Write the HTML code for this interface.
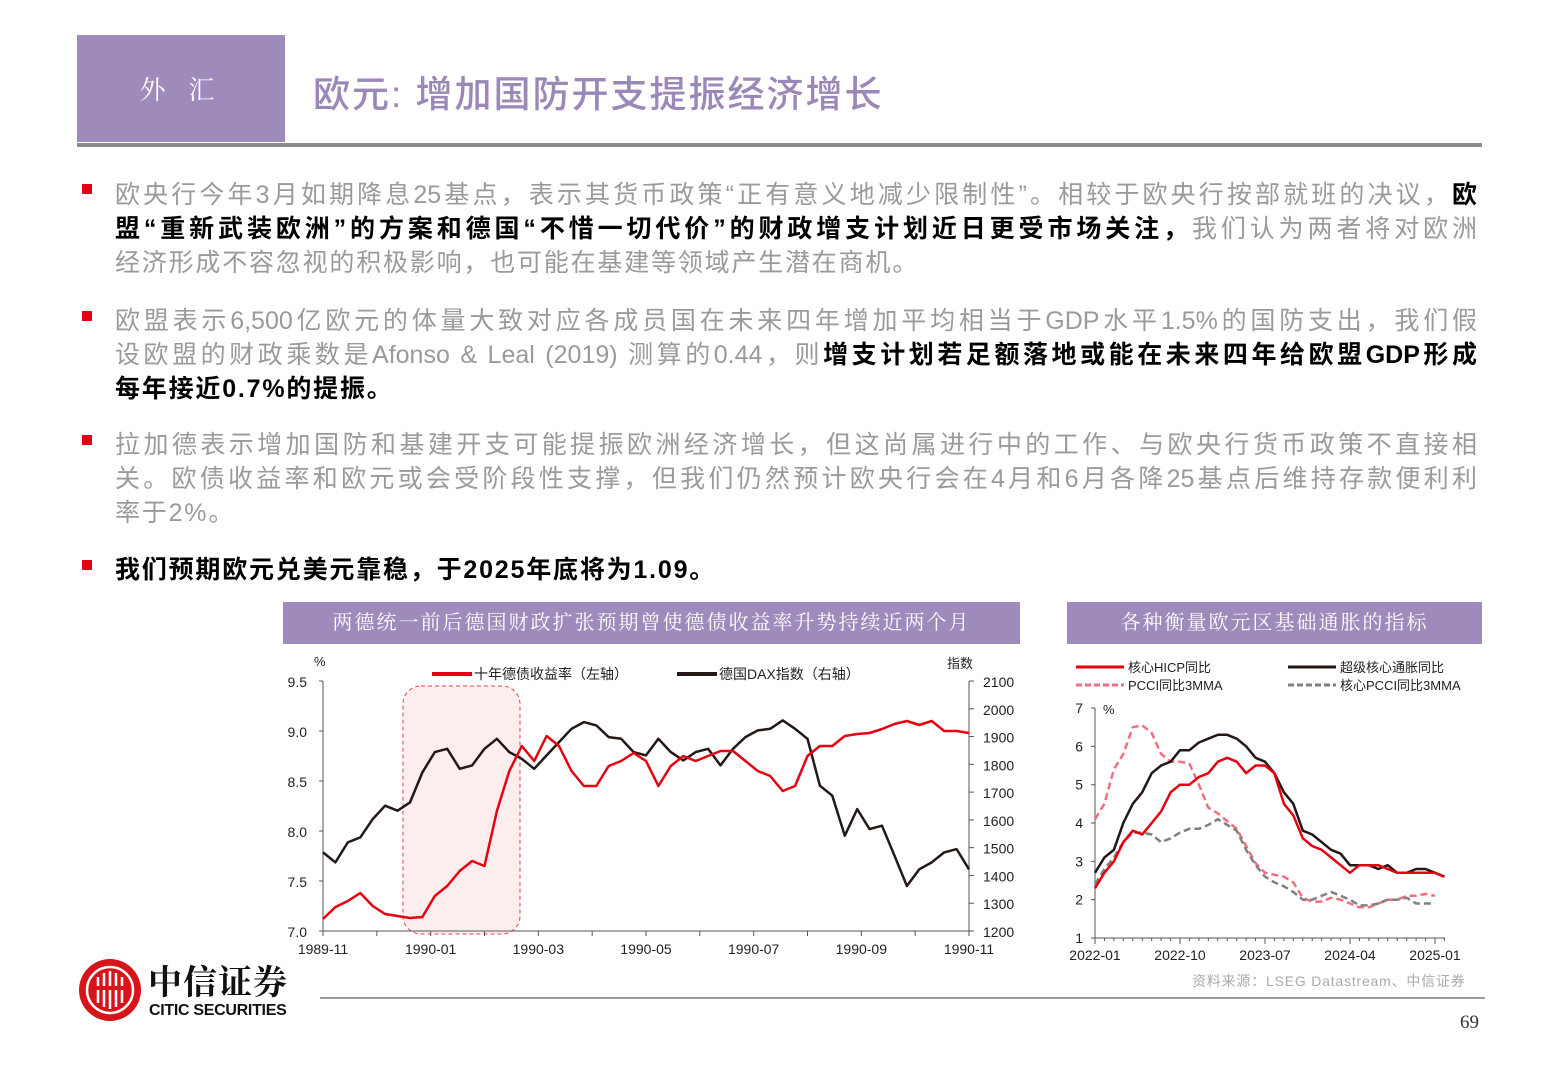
<!DOCTYPE html>
<html><head><meta charset="utf-8">
<style>
body{margin:0;width:1560px;height:1080px;background:#fff;position:relative;overflow:hidden;font-family:"Liberation Sans","Noto Sans CJK SC",sans-serif;}
.abs{position:absolute;}
.ln{position:absolute;left:115px;width:1362px;font-size:25px;line-height:34px;height:34px;color:#9a9a9a;white-space:nowrap;text-align:justify;text-align-last:justify;}
.ln.last{text-align-last:left;}
.ln b{color:#000;font-weight:bold;}
.sq{position:absolute;left:82px;width:10px;height:10px;background:#e60012;}
.ct{position:absolute;top:602px;height:42px;background:#9e8bbb;color:#fff;font-size:20px;line-height:42px;text-align:center;letter-spacing:2px;font-family:"Liberation Serif","Noto Serif CJK SC",serif;}
svg text{font-family:"Liberation Sans","Noto Sans CJK SC",sans-serif;}
</style></head><body>
<div class="abs" style="left:77px;top:35px;width:208px;height:107px;background:#9e8bbb;color:#fff;font-size:26px;line-height:107px;text-align:center;letter-spacing:8px;font-family:'Noto Serif CJK SC',serif;">外 汇</div>
<div class="abs" style="left:313px;top:64px;font-size:37px;color:#9b87b8;letter-spacing:2px;font-weight:500;font-family:'Liberation Sans','Noto Sans CJK SC',sans-serif;">欧元: 增加国防开支提振经济增长</div>
<div class="abs" style="left:77px;top:143px;width:1405px;height:4px;background:#8c8c8c;"></div>

<div class="sq" style="top:184px"></div>
<div>
<div class="ln" style="top:178px">欧央行今年3月如期降息25基点，表示其货币政策“正有意义地减少限制性”。相较于欧央行按部就班的决议，<b>欧</b></div>
<div class="ln" style="top:212px"><b>盟“重新武装欧洲”的方案和德国“不惜一切代价”的财政增支计划近日更受市场关注，</b>我们认为两者将对欧洲</div>
<div class="ln last" style="top:246px;letter-spacing:1.8px">经济形成不容忽视的积极影响，也可能在基建等领域产生潜在商机。</div>
</div>
<div class="sq" style="top:311px"></div>
<div>
<div class="ln" style="top:304px">欧盟表示6,500亿欧元的体量大致对应各成员国在未来四年增加平均相当于GDP水平1.5%的国防支出，我们假</div>
<div class="ln" style="top:338px">设欧盟的财政乘数是Afonso &amp; Leal (2019) 测算的0.44，则<b>增支计划若足额落地或能在未来四年给欧盟GDP形成</b></div>
<div class="ln last" style="top:372px;letter-spacing:1.8px"><b>每年接近0.7%的提振。</b></div>
</div>
<div class="sq" style="top:435px"></div>
<div>
<div class="ln" style="top:428px">拉加德表示增加国防和基建开支可能提振欧洲经济增长，但这尚属进行中的工作、与欧央行货币政策不直接相</div>
<div class="ln" style="top:462px">关。欧债收益率和欧元或会受阶段性支撑，但我们仍然预计欧央行会在4月和6月各降25基点后维持存款便利利</div>
<div class="ln last" style="top:496px;letter-spacing:1.8px">率于2%。</div>
</div>
<div class="sq" style="top:560px"></div>
<div class="ln last" style="top:553px;letter-spacing:1.8px"><b>我们预期欧元兑美元靠稳，于2025年底将为1.09。</b></div>

<div class="ct" style="left:283px;width:737px">两德统一前后德国财政扩张预期曾使德债收益率升势持续近两个月</div>
<div class="ct" style="left:1067px;width:415px">各种衡量欧元区基础通胀的指标</div>

<svg class="abs" style="left:0;top:0" width="1560" height="1080" id="svg"></svg>

<div class="abs" style="left:1192px;top:971px;font-size:14px;color:#aaa;letter-spacing:0.8px;">资料来源：LSEG Datastream、中信证券</div>
<div class="abs" style="left:320px;top:997px;width:1165px;height:2px;background:#999;"></div>
<div class="abs" style="left:1460px;top:1012px;font-size:19px;color:#333;font-family:'Liberation Serif',serif;">69</div>
<svg class="abs" style="left:79px;top:959px" width="62" height="62">
<circle cx="31" cy="31" r="31" fill="#d7141a"/>
<circle cx="31" cy="31" r="23" fill="none" stroke="#fff" stroke-width="2.5"/>
<path d="M19 18 v26 M25 14 v34 M31 12 v38 M37 14 v34 M43 18 v26" stroke="#fff" stroke-width="2.5" fill="none"/>
<path d="M16 29 h30" stroke="#d7141a" stroke-width="4"/>
</svg>
<div class="abs" style="left:148px;top:960px;font-size:34px;font-weight:bold;color:#111;font-family:'Noto Serif CJK SC',serif;line-height:40px;letter-spacing:1px;">中信证券</div>
<div class="abs" style="left:149px;top:1002px;font-size:16px;font-weight:bold;color:#111;letter-spacing:-0.3px;">CITIC SECURITIES</div>

<script>
const leftTicksX = ['1989-11','1990-01','1990-03','1990-05','1990-07','1990-09','1990-11'];
const leftTicksY = [7.0,7.5,8.0,8.5,9.0,9.5];
const rightTicksY = [1200,1300,1400,1500,1600,1700,1800,1900,2000,2100];
const bundYield = [7.12,7.24,7.30,7.38,7.25,7.17,7.15,7.13,7.14,7.35,7.45,7.6,7.7,7.65,8.2,8.6,8.85,8.7,8.95,8.85,8.6,8.45,8.45,8.65,8.7,8.78,8.7,8.45,8.65,8.75,8.7,8.75,8.8,8.8,8.7,8.6,8.55,8.4,8.45,8.75,8.85,8.85,8.95,8.97,8.98,9.02,9.07,9.1,9.06,9.1,9.0,9.0,8.98];
const dax = [1483,1447,1519,1537,1603,1651,1633,1663,1771,1844,1856,1784,1796,1856,1892,1844,1820,1784,1832,1880,1928,1952,1940,1898,1892,1844,1832,1892,1844,1814,1844,1856,1796,1856,1898,1922,1928,1958,1928,1892,1723,1687,1543,1639,1567,1579,1471,1362,1422,1447,1483,1495,1422];
const rTicksX = ['2022-01','2022-10','2023-07','2024-04','2025-01'];
const rTicksY = [1,2,3,4,5,6,7];
const coreHICP = [2.3,2.7,3.0,3.5,3.8,3.7,4.0,4.3,4.8,5.0,5.0,5.2,5.3,5.6,5.7,5.6,5.3,5.5,5.5,5.3,4.5,4.2,3.6,3.4,3.3,3.1,2.9,2.7,2.9,2.9,2.9,2.8,2.7,2.7,2.7,2.7,2.7,2.6];
const supercore = [2.7,3.1,3.3,4.0,4.5,4.8,5.3,5.5,5.6,5.9,5.9,6.1,6.2,6.3,6.3,6.2,6.0,5.7,5.6,5.3,4.8,4.5,3.8,3.7,3.5,3.3,3.2,2.9,2.9,2.9,2.8,2.9,2.7,2.7,2.8,2.8,2.7,2.6];
const pcci = [4.1,4.5,5.4,5.8,6.5,6.55,6.35,5.8,5.6,5.6,5.55,5.0,4.4,4.25,4.05,3.85,3.4,2.95,2.7,2.65,2.6,2.45,2.05,1.95,1.95,2.05,2.0,1.9,1.8,1.8,1.9,2.0,2.0,2.1,2.1,2.15,2.1];
const corePcci = [2.4,2.8,3.1,3.5,3.75,3.75,3.7,3.5,3.6,3.75,3.85,3.85,3.95,4.1,3.95,3.8,3.3,2.9,2.6,2.45,2.35,2.2,2.0,2.0,2.1,2.2,2.1,2.0,1.85,1.85,1.9,2.0,2.0,2.05,1.9,1.9,1.9];

const svg=document.getElementById('svg');const NS='http://www.w3.org/2000/svg';
function mk(t,a,txt){const e=document.createElementNS(NS,t);for(const k in a)e.setAttribute(k,a[k]);if(txt!==undefined)e.textContent=txt;svg.appendChild(e);return e;}

const LX0=323,LX1=969,LY0=931,LY1=681;
const lx=i=>LX0+(LX1-LX0)*i/(bundYield.length-1);
const ly=v=>LY0-(v-7.0)/2.5*(LY0-LY1);
const ry=v=>LY0-(v-1200)/900*(LY0-LY1);
let e;
e=mk('rect',{x:403,y:686,width:117,height:248,rx:18,fill:'#fdeeee',stroke:'#e8424a','stroke-dasharray':'4,3','stroke-width':1});

mk('line',{x1:LX0,y1:LY1,x2:LX0,y2:LY0,stroke:'#555'});
mk('line',{x1:LX1,y1:LY1,x2:LX1,y2:LY0,stroke:'#555'});
mk('line',{x1:LX0,y1:LY0,x2:LX1,y2:LY0,stroke:'#555'});
leftTicksY.forEach(v=>{mk('line',{x1:LX0-4,y1:ly(v),x2:LX0,y2:ly(v),stroke:'#555'});
 e=mk('text',{x:LX0-16,y:ly(v)+6,'text-anchor':'end','font-size':14,fill:'#222'},v.toFixed(1));});
rightTicksY.forEach(v=>{mk('line',{x1:LX1,y1:ry(v),x2:LX1+5,y2:ry(v),stroke:'#555'});
 e=mk('text',{x:LX1+14,y:ry(v)+6,'font-size':14,fill:'#222'},v);});
for(let m=0;m<=12;m++){const x=LX0+(LX1-LX0)*m/12;mk('line',{x1:x,y1:LY0,x2:x,y2:LY0+5,stroke:'#555'});}
leftTicksX.forEach((t,i)=>{const x=LX0+(LX1-LX0)*i/6;e=mk('text',{x:x,y:954,'text-anchor':'middle','font-size':14,fill:'#222'},t);});
mk('text',{x:314,y:666,'font-size':13,fill:'#222'},'%');
mk('text',{x:947,y:668,'font-size':13,fill:'#222'},'指数');
function path(arr,fx,fy,attrs,name){const d=arr.map((v,i)=>(i?'L':'M')+fx(i).toFixed(1)+','+fy(v).toFixed(1)).join('');const p=mk('path',Object.assign({d:d,fill:'none','stroke-linejoin':'round'},attrs));return p;}
path(dax,lx,ry,{stroke:'#231815','stroke-width':2.5},'dax-line');
path(bundYield,lx,ly,{stroke:'#e60012','stroke-width':2.5},'bund-yield-line');
mk('line',{x1:432,y1:674,x2:472,y2:674,stroke:'#e60012','stroke-width':4});
mk('text',{x:474,y:679,'font-size':14,fill:'#222'},'十年德债收益率（左轴）');
mk('line',{x1:677,y1:674,x2:717,y2:674,stroke:'#231815','stroke-width':4});
mk('text',{x:719,y:679,'font-size':14,fill:'#222'},'德国DAX指数（右轴）');

const RX0=1095,RX1=1435,RY0=938,RY1=708;
const rx=i=>RX0+(RX1-RX0)*i/36;
const rry=v=>RY0-(v-1)/6*(RY0-RY1);
mk('line',{x1:RX0,y1:RY1,x2:RX0,y2:RY0,stroke:'#555'});
mk('line',{x1:RX0,y1:RY0,x2:1445,y2:RY0,stroke:'#555'});
rTicksY.forEach(v=>{mk('line',{x1:RX0-4,y1:rry(v),x2:RX0,y2:rry(v),stroke:'#555'});
 e=mk('text',{x:RX0-12,y:rry(v)+5,'text-anchor':'end','font-size':14,fill:'#222'},v);});
for(let m=0;m<=37;m++){const x=rx(m);mk('line',{x1:x,y1:RY0,x2:x,y2:RY0+(m%9==0?6:3),stroke:'#555'});}
rTicksX.forEach((t,i)=>{e=mk('text',{x:rx(i*9),y:960,'text-anchor':'middle','font-size':14,fill:'#222'},t);});
mk('text',{x:1103,y:714,'font-size':13,fill:'#222'},'%');
path(pcci,rx,rry,{stroke:'#f26d7d','stroke-width':2.5,'stroke-dasharray':'7,4'},'pcci-line');
path(corePcci,rx,rry,{stroke:'#808080','stroke-width':2.5,'stroke-dasharray':'7,4'},'core-pcci-line');
path(supercore,rx,rry,{stroke:'#231815','stroke-width':2.5},'supercore-line');
path(coreHICP,rx,rry,{stroke:'#e60012','stroke-width':2.5},'core-hicp-line');
mk('line',{x1:1076,y1:667,x2:1124,y2:667,stroke:'#e60012','stroke-width':3});
mk('text',{x:1128,y:672,'font-size':13,fill:'#222'},'核心HICP同比');
mk('line',{x1:1076,y1:685,x2:1124,y2:685,stroke:'#f26d7d','stroke-width':3,'stroke-dasharray':'6,3'});
mk('text',{x:1128,y:690,'font-size':13,fill:'#222'},'PCCI同比3MMA');
mk('line',{x1:1288,y1:667,x2:1336,y2:667,stroke:'#231815','stroke-width':3});
mk('text',{x:1340,y:672,'font-size':13,fill:'#222'},'超级核心通胀同比');
mk('line',{x1:1288,y1:685,x2:1336,y2:685,stroke:'#808080','stroke-width':3,'stroke-dasharray':'6,3'});
mk('text',{x:1340,y:690,'font-size':13,fill:'#222'},'核心PCCI同比3MMA');
</script>
</body></html>
